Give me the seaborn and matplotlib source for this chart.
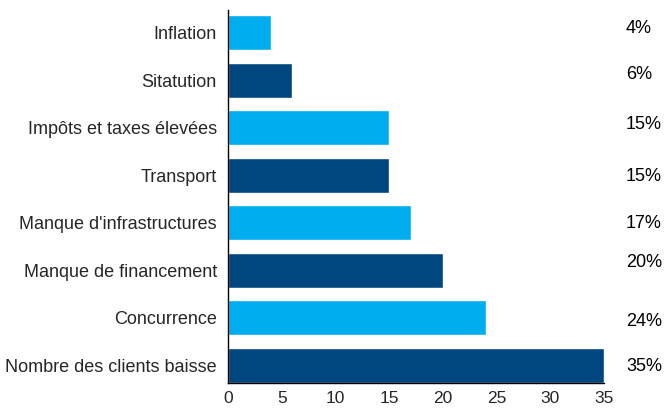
import matplotlib
matplotlib.use("Agg")
import matplotlib.pyplot as plt
from matplotlib.transforms import blended_transform_factory
import seaborn as sns
import pandas as pd

categories = ["Inflation", "Sitatution", "Impôts et taxes élevées", "Transport",
              "Manque d'infrastructures", "Manque de financement", "Concurrence",
              "Nombre des clients baisse"]
values = [4, 6, 15, 15, 17, 20, 24, 35]
value_labels = ["4%", "6%", "15%", "15%", "17%", "20%", "24%", "35%"]
x_ticks = [0, 5, 10, 15, 20, 25, 30, 35]

LIGHT = "#00AEEF"
DARK = "#00467F"
colors = [LIGHT if i % 2 == 0 else DARK for i in range(len(categories))]

df = pd.DataFrame({"category": categories, "value": values})

sns.set_style("white")
plt.rcParams["font.family"] = ["Liberation Sans", "DejaVu Sans"]

fig = plt.figure(figsize=(6.67, 4.09), dpi=100)
ax = fig.add_axes([0.3418, 0.0636, 0.5637, 0.912])

sns.barplot(data=df, y="category", x="value", hue="category", palette=colors,
            orient="h", width=0.74, legend=False, saturation=1, ax=ax)

ax.set_xlim(0, 35)
ax.set_ylim(7.37, -0.48)
ax.set_xticks(x_ticks)
ax.set_xlabel("")
ax.set_ylabel("")

for s in ["top", "right"]:
    ax.spines[s].set_visible(False)
for s in ["left", "bottom"]:
    ax.spines[s].set_color("black")
    ax.spines[s].set_linewidth(1.0)

ax.tick_params(axis="x", direction="out", length=5, width=1, color="black",
               labelsize=12.5, pad=1)
ax.tick_params(axis="y", length=0, labelsize=13, pad=8)

# percentage column at the right edge of the figure
label_shift = [-0.1, -0.12, -0.07, 0.03, 0.01, -0.17, 0.07, 0.02]
trans = blended_transform_factory(fig.transFigure, ax.transData)
for i, (txt, dy) in enumerate(zip(value_labels, label_shift)):
    ax.text(626 / 667, i + dy, txt, transform=trans,
            ha="left", va="center", fontsize=13, color="black")

fig.savefig("out.png", dpi=100)
